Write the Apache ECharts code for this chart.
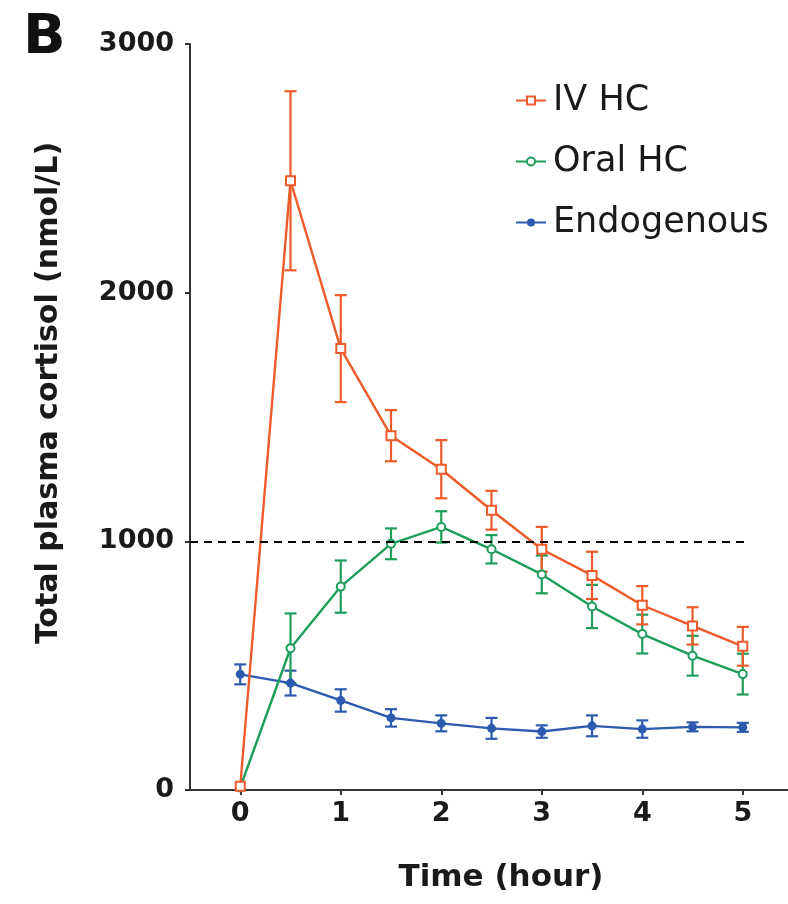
<!DOCTYPE html>
<html>
<head>
<meta charset="utf-8">
<script src="https://cdn.jsdelivr.net/npm/echarts@6/dist/echarts.min.js"></script>
<style>
  html, body { margin: 0; padding: 0; background: #fff; }
  #chart { width: 788px; height: 904px; }
</style>
</head>
<body>
<div id="chart"></div>
<script>
// ---- Data ----
const times = [0, 0.5, 1, 1.5, 2, 2.5, 3, 3.5, 4, 4.5, 5];
const xTickValues = [0, 1, 2, 3, 4, 5];
const yTickValues = [0, 1000, 2000, 3000];

const ivMean = [15, 2450, 1775, 1425, 1290, 1125, 968, 863, 743, 660, 578];
const ivSem  = [0, 360, 215, 103, 117, 78, 90, 95, 77, 75, 78];

const oralMean = [10, 570, 818, 990, 1058, 968, 867, 738, 627, 540, 466];
const oralSem  = [0, 140, 105, 62, 63, 57, 76, 87, 78, 80, 82];

const endoMean = [465, 430, 360, 290, 268, 248, 235, 258, 245, 254, 252];
const endoSem  = [40, 50, 45, 35, 32, 42, 25, 42, 35, 18, 18];

const threshold = 1000;

// ---- Styles ----
const C_IV = '#EE5A2A';
const C_ORAL = '#1F9D5B';
const C_ENDO = '#2C5AAE';
const FONT = 'DejaVu Sans';

function pts(mean) { return times.map((t, i) => [t, mean[i]]); }
function errs(mean, sem) {
  return times.map((t, i) => [t, mean[i] - sem[i], mean[i] + sem[i]]).filter((d, i) => sem[i] > 0);
}
function errSeries(mean, sem, color) {
  return {
    type: 'custom',
    silent: true,
    z: 3,
    data: errs(mean, sem),
    renderItem: function (params, api) {
      const x = api.value(0), lo = api.value(1), hi = api.value(2);
      const a = api.coord([x, lo]), b = api.coord([x, hi]);
      const w = 6;
      const st = { stroke: color, lineWidth: 2.2 };
      return {
        type: 'group',
        children: [
          { type: 'line', shape: { x1: a[0], y1: a[1], x2: b[0], y2: b[1] }, style: st },
          { type: 'line', shape: { x1: a[0] - w, y1: a[1], x2: a[0] + w, y2: a[1] }, style: st },
          { type: 'line', shape: { x1: b[0] - w, y1: b[1], x2: b[0] + w, y2: b[1] }, style: st }
        ]
      };
    }
  };
}

const chart = echarts.init(document.getElementById('chart'), null, { renderer: 'canvas' });
chart.setOption({
  animation: false,
  backgroundColor: '#fff',
  grid: { left: 190, right: 0, top: 44, bottom: 114, containLabel: false },
  xAxis: {
    type: 'value', min: -0.5, max: 5.45,
    axisLine: { show: true, onZero: false, lineStyle: { color: '#333', width: 2 } },
    axisTick: { show: true, customValues: xTickValues, length: 5, lineStyle: { color: '#333', width: 2 } },
    axisLabel: { customValues: xTickValues, margin: 10, fontFamily: FONT, fontWeight: 'bold', fontSize: 27, color: '#1a1a1a' },
    splitLine: { show: false }
  },
  yAxis: {
    type: 'value', min: 0, max: 3000, interval: 1000,
    axisLine: { show: true, onZero: false, lineStyle: { color: '#333', width: 2 } },
    axisTick: { show: true, length: 5, lineStyle: { color: '#333', width: 2 } },
    axisLabel: { customValues: yTickValues, margin: 16, fontFamily: FONT, fontWeight: 'bold', fontSize: 27, color: '#1a1a1a',
      formatter: function (v) { return String(v); } },
    splitLine: { show: false }
  },
  legend: {
    orient: 'vertical', left: 510, top: 78, itemGap: 26,
    itemWidth: 30, itemHeight: 10,
    textStyle: { fontFamily: FONT, fontSize: 35, color: '#1a1a1a', padding: [0, 0, 0, 2] },
    data: ['IV HC', 'Oral HC', 'Endogenous']
  },
  graphic: [
    { type: 'text', left: 23, top: 10, style: { text: 'B', font: 'bold 56px "DejaVu Sans"', fill: '#111' } },
    { type: 'text', x: 49, y: 393, rotation: Math.PI / 2,
      style: { text: 'Total plasma cortisol (nmol/L)', font: 'bold 30px "DejaVu Sans"', fill: '#1a1a1a', align: 'center', verticalAlign: 'middle' } },
    { type: 'text', x: 501, y: 878,
      style: { text: 'Time (hour)', font: 'bold 31px "DejaVu Sans"', fill: '#1a1a1a', align: 'center', verticalAlign: 'middle' } }
  ],
  series: [
    {
      type: 'line', name: 'ref', silent: true, data: [], symbol: 'none',
      markLine: {
        silent: true, symbol: 'none', label: { show: false },
        lineStyle: { color: '#000', width: 2, type: [8, 6] },
        data: [[{ coord: [-0.5, threshold] }, { coord: [5.07, threshold] }]]
      }
    },
    errSeries(endoMean, endoSem, C_ENDO),
    { type: 'line', name: 'Endogenous', data: pts(endoMean), color: C_ENDO, z: 4,
      symbol: 'circle', symbolSize: 9, lineStyle: { width: 2.4, color: C_ENDO }, itemStyle: { color: C_ENDO } },
    errSeries(oralMean, oralSem, C_ORAL),
    { type: 'line', name: 'Oral HC', data: pts(oralMean), color: C_ORAL, z: 4,
      symbol: 'emptyCircle', symbolSize: 8, lineStyle: { width: 2.4, color: C_ORAL }, itemStyle: { color: C_ORAL, borderWidth: 2 } },
    errSeries(ivMean, ivSem, C_IV),
    { type: 'line', name: 'IV HC', data: pts(ivMean), color: C_IV, z: 4,
      symbol: 'emptyRect', symbolSize: 9, lineStyle: { width: 2.4, color: C_IV }, itemStyle: { color: C_IV, borderWidth: 2 } }
  ]
});
</script>
</body>
</html>
